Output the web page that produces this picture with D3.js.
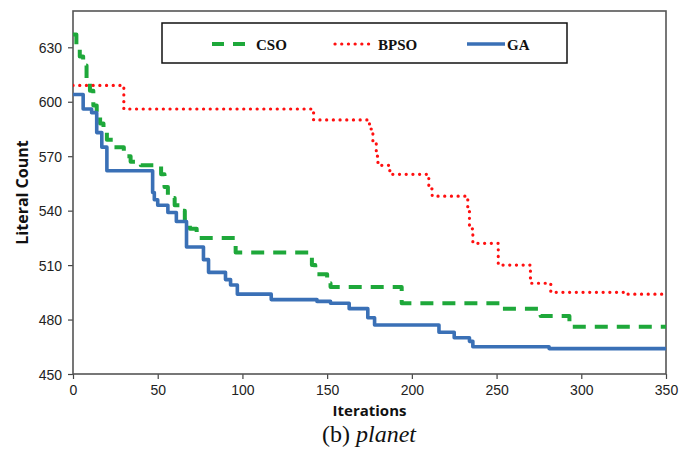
<!DOCTYPE html>
<html>
<head>
<meta charset="utf-8">
<script src="https://cdn.jsdelivr.net/npm/d3@7"></script>
<style>
  html, body { margin: 0; padding: 0; background: #fff; overflow: hidden; }
  svg { display: block; overflow: visible; }
</style>
</head>
<body>
<div id="chart"></div>
<script>

// step points (iteration where the value starts)
const csoIter  = [0, 2, 4, 6, 8, 10, 12, 14, 16, 18, 20, 24, 30, 34, 40, 52, 54, 56, 60, 63, 66, 69, 73, 96, 141, 143, 150, 152, 194, 252, 276, 293, 350];
const csoValue = [637, 630, 625, 620, 612, 606, 598, 592, 588, 583, 579, 575, 570, 567, 565, 560, 553, 547, 543, 540, 535, 530, 525, 517, 510, 505, 500, 498, 489, 486, 482, 476, 476];

const bpsoIter  = [0, 30, 142, 175, 177, 179, 180, 187, 210, 212, 233, 234, 236, 251, 270, 282, 325, 350];
const bpsoValue = [609, 596, 590, 585, 577, 570, 565, 560, 552, 548, 540, 530, 522, 510, 500, 495, 494, 494];

const gaIter  = [0, 6, 11, 14, 17, 20, 47, 48, 50, 56, 61, 67, 77, 80, 90, 93, 97, 117, 144, 152, 163, 174, 178, 216, 225, 234, 236, 281, 350];
const gaValue = [604, 596, 594, 583, 575, 562, 550, 546, 543, 539, 534, 520, 513, 506, 502, 499, 494, 491, 490, 489, 486, 481, 477, 473, 470, 468, 465, 464, 464];

const xTicks = [0, 50, 100, 150, 200, 250, 300, 350];
const yTicks = [450, 480, 510, 540, 570, 600, 630];

const seriesNames = ["CSO", "BPSO", "GA"];

const width  = 680;
const height = 461;
const margin = { top: 11, right: 14, bottom: 87, left: 73 };
const innerWidth  = width - margin.left - margin.right;
const innerHeight = height - margin.top - margin.bottom;

const xScale = d3.scaleLinear().domain([0, 350]).range([0, innerWidth]);
const yScale = d3.scaleLinear().domain([450, 650]).range([innerHeight, 0]);

const styles = {
  CSO:  { color: "#1ea83a", width: 4,   dash: "13 9",     cap: "butt"  },
  BPSO: { color: "#ff1010", width: 3.2, dash: "0.1 6.6",  cap: "round" },
  GA:   { color: "#3a70b6", width: 3.6, dash: null,       cap: "butt"  }
};

const svg = d3.select("#chart")
  .append("svg")
    .attr("width", width)
    .attr("height", height)
    .style("background", "#fff");

svg.append("defs")
  .append("clipPath")
    .attr("id", "plot-clip")
  .append("rect")
    .attr("width", innerWidth)
    .attr("height", innerHeight);

const inner = svg
  .append("g")
    .attr("transform", `translate(${margin.left}, ${margin.top})`);

// axes
const xAxis = d3.axisBottom(xScale).tickValues(xTicks).tickSize(5).tickPadding(4).tickFormat(d3.format("d"));
const yAxis = d3.axisLeft(yScale).tickValues(yTicks).tickSize(5).tickPadding(6).tickFormat(d3.format("d"));

const xG = inner.append("g")
    .attr("transform", `translate(0, ${innerHeight})`)
    .call(xAxis);

const yG = inner.append("g")
    .call(yAxis);

[xG, yG].forEach(g => {
  g.attr("font-family", "'Liberation Sans', Arial, sans-serif")
   .attr("font-size", 14);
  g.select(".domain").remove();
  g.selectAll(".tick line").attr("stroke", "#444").attr("stroke-width", 1.2);
  g.selectAll(".tick text").attr("fill", "#222").attr("dy", null);
});

xG.selectAll(".tick text").attr("y", 21);
yG.selectAll(".tick text").attr("y", 5);

// frame round the plot
inner.append("rect")
    .attr("width", innerWidth)
    .attr("height", innerHeight)
    .attr("fill", "none")
    .attr("stroke", "#555")
    .attr("stroke-width", 1.6);

// lines
const lineGen = d3.line()
    .x(d => xScale(d[0]))
    .y(d => yScale(d[1]))
    .curve(d3.curveStepAfter);

const seriesData = {
  CSO:  csoIter.map((it, i) => [it, csoValue[i]]),
  BPSO: bpsoIter.map((it, i) => [it, bpsoValue[i]]),
  GA:   gaIter.map((it, i) => [it, gaValue[i]])
};

seriesNames.forEach(name => {
  const s = styles[name];
  inner.append("path")
      .datum(seriesData[name])
      .attr("clip-path", "url(#plot-clip)")
      .attr("fill", "none")
      .attr("stroke", s.color)
      .attr("stroke-width", s.width)
      .attr("stroke-dasharray", s.dash)
      .attr("stroke-linecap", s.cap)
      .attr("stroke-linejoin", "round")
      .attr("d", lineGen);
});

// legend
const legend = svg.append("g");

legend.append("rect")
    .attr("x", 162)
    .attr("y", 23)
    .attr("width", 405)
    .attr("height", 40)
    .attr("fill", "#fff")
    .attr("stroke", "#111")
    .attr("stroke-width", 1.5);

const legendPos = { CSO: [212, 256], BPSO: [335, 378], GA: [467, 507] };

seriesNames.forEach(name => {
  const s = styles[name];
  const [lx, tx] = legendPos[name];
  legend.append("line")
      .attr("x1", lx)
      .attr("x2", name === "GA" ? lx + 38 : lx + 35)
      .attr("y1", 44)
      .attr("y2", 44)
      .attr("stroke", s.color)
      .attr("stroke-width", s.width)
      .attr("stroke-dasharray", name === "CSO" ? "12 9" : s.dash)
      .attr("stroke-linecap", s.cap);
  legend.append("text")
      .attr("x", tx)
      .attr("y", 49.5)
      .attr("fill", "#111")
      .attr("font-family", "'Liberation Serif', 'Times New Roman', serif")
      .attr("font-weight", "bold")
      .attr("font-size", 15)
      .text(name);
});

// axis titles
svg.append("text")
    .attr("transform", `translate(28, ${margin.top + innerHeight / 2}) rotate(-90)`)
    .attr("text-anchor", "middle")
    .attr("fill", "#111")
    .attr("font-family", "'Open Sans', Arial, sans-serif")
    .attr("font-weight", "bold")
    .attr("font-size", 16)
    .text("Literal Count");

svg.append("text")
    .attr("x", margin.left + innerWidth / 2)
    .attr("y", 416)
    .attr("text-anchor", "middle")
    .attr("fill", "#111")
    .attr("font-family", "'Open Sans', Arial, sans-serif")
    .attr("font-weight", "bold")
    .attr("font-size", 15)
    .text("Iterations");

// caption
const caption = svg.append("text")
    .attr("x", 369)
    .attr("y", 442)
    .attr("text-anchor", "middle")
    .attr("fill", "#111")
    .attr("font-family", "'Liberation Serif', 'Times New Roman', serif")
    .attr("font-size", 24);

caption.append("tspan").text("(b) ");
caption.append("tspan").attr("font-style", "italic").text("planet");

</script>
</body>
</html>
